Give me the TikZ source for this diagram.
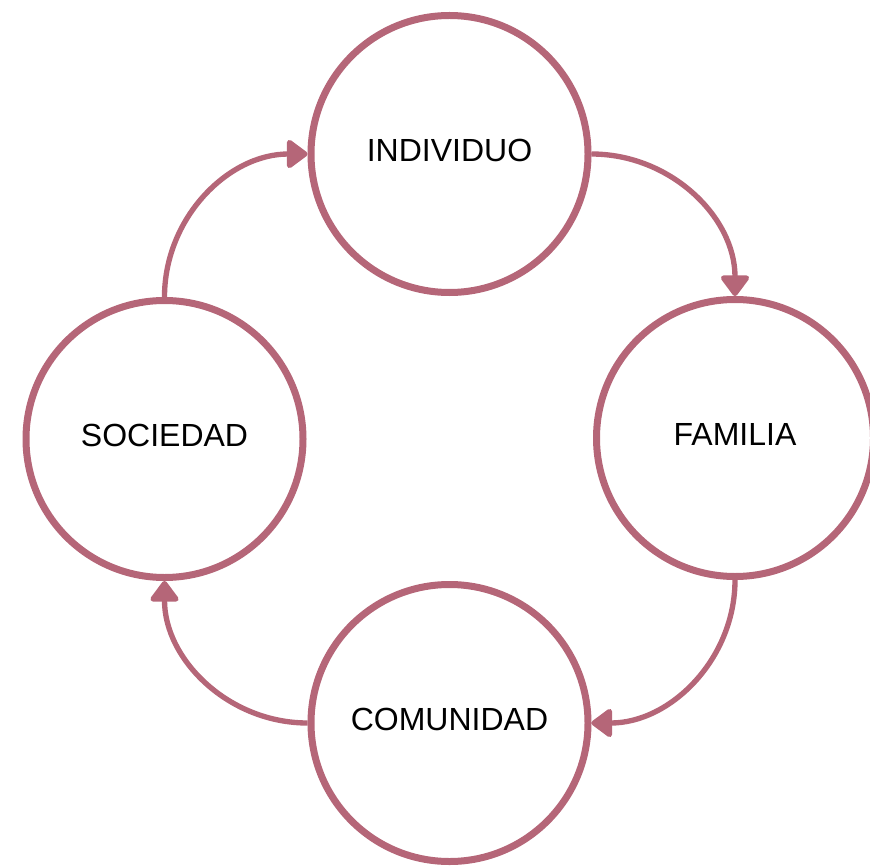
\documentclass[tikz,border=0pt]{standalone}
\usepackage{fontspec}
\setmainfont{Liberation Sans}
\usetikzlibrary{arrows.meta}
\definecolor{ringrose}{RGB}{181,102,120}

\tikzstyle{stage}=[circle,draw=ringrose,line width=5.25pt,minimum size=207.75pt,inner sep=0pt,outer sep=2.6pt,font=\fontsize{24pt}{28pt}\selectfont,text depth=5.2pt]
\tikzstyle{flow}=[draw=ringrose,line width=4pt,-{Triangle[width=24pt,length=17pt,round]}]

\begin{document}
\begin{tikzpicture}[x=0.75pt,y=-0.75pt]
	\useasboundingbox (0,0) rectangle (870,866);
	
	\node[stage] (individuo) at (449.5,154) {INDIVIDUO};
	\node[stage] (familia) at (735,438) {FAMILIA};
	\node[stage] (comunidad) at (449.5,723) {COMUNIDAD};
	\node[stage] (sociedad) at (164.5,439) {SOCIEDAD};
	
	\draw[flow] (individuo.east) to[out=0,in=90] (familia.north);
	\draw[flow] (familia.south) to[out=-90,in=0] (comunidad.east);
	\draw[flow] (comunidad.west) to[out=180,in=-90] (sociedad.south);
	\draw[flow] (sociedad.north) to[out=90,in=180] (individuo.west);
\end{tikzpicture}
\end{document}
